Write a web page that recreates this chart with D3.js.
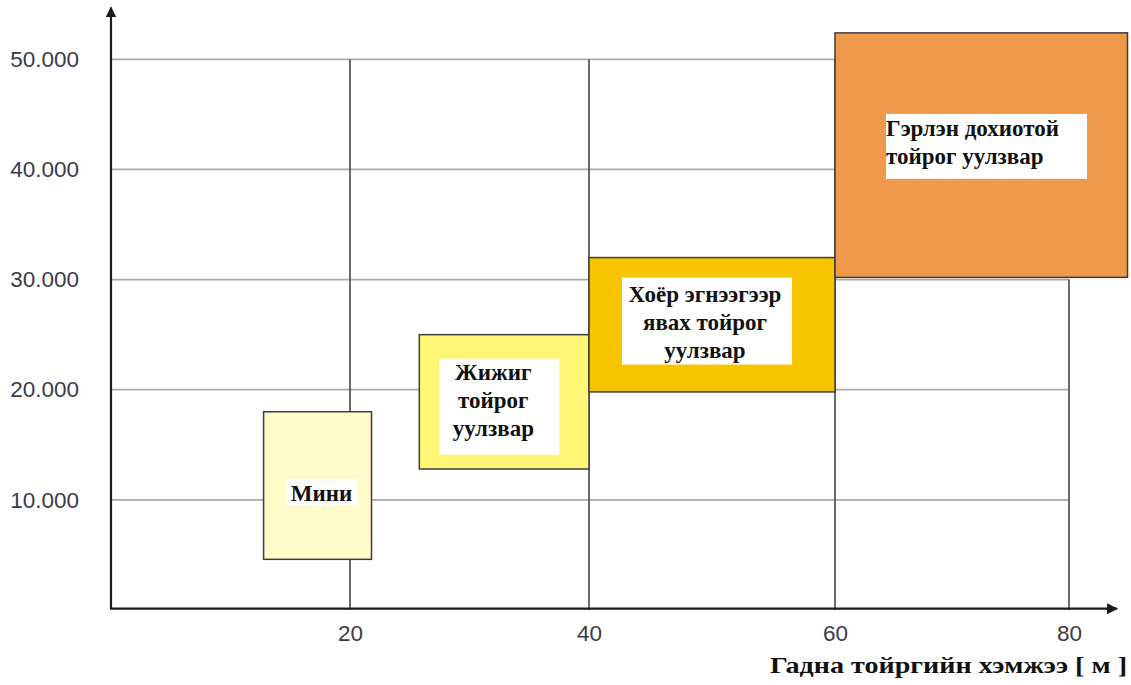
<!DOCTYPE html>
<html>
<head>
<meta charset="utf-8">
<script src="https://cdn.jsdelivr.net/npm/d3@7"></script>
<style>
  html, body { margin: 0; padding: 0; background: #ffffff; }
  svg { display: block; }
</style>
</head>
<body>
<svg id="chart" width="1131" height="685"></svg>
<script>
// Roundabout types: outer diameter range [m] vs. traffic capacity range
const categories = ["Мини", "Жижиг тойрог уулзвар", "Хоёр эгнээгээр явах тойрог уулзвар", "Гэрлэн дохиотой тойрог уулзвар"];
const labelLines = [["Мини"], ["Жижиг", "тойрог", "уулзвар"], ["Хоёр эгнээгээр", "явах тойрог", "уулзвар"], ["Гэрлэн дохиотой", "тойрог уулзвар"]];
const diameterMin = [12.8, 25.8, 40, 60];
const diameterMax = [21.8, 40, 60, 85];
const capacityMin = [4600, 12800, 19800, 30200];
const capacityMax = [18000, 25000, 32000, 52400];
const xTicks = [20, 40, 60, 80];
const yTicks = [10000, 20000, 30000, 40000, 50000];
const xTitle = "Гадна тойргийн хэмжээ [ м ]";

// styling
const fills = ["#fffbcb", "#fff677", "#f7c400", "#ef9a4a"];
// white label panels, in pixels relative to each box's top-left corner
const labelLayout = [
  { rx: 23, ry: 67, rw: 70, rh: 27, tx: 58, ty: 89, anchor: "middle" },
  { rx: 20, ry: 24, rw: 120, rh: 96, tx: 74, ty: 45, anchor: "middle" },
  { rx: 33, ry: 20, rw: 170, rh: 87, tx: 116, ty: 44, anchor: "middle" },
  { rx: 51, ry: 81, rw: 201, rh: 65, tx: 51, ty: 103, anchor: "start" }
];
const lineGap = 28;

const svg = d3.select("#chart");

// the diagram's x spacing is slightly uneven, so a piecewise-linear scale is used
const x = d3.scaleLinear().domain([0, 20, 40, 60, 80]).range([110, 350, 589, 835, 1069]);
const y = d3.scaleLinear().domain([0, 50000]).range([610, 59.3]);

// grid: full height up to 60 m, the 60–80 m column only up to 30.000
const gridTop = v => (v <= 60 ? 50000 : 30000);
const gridRight = v => (v >= 40000 ? 60 : 80);

const grid = svg.append("g");
grid.selectAll("line.h")
  .data(yTicks)
  .join("line")
  .attr("x1", x(0)).attr("x2", d => x(gridRight(d)))
  .attr("y1", d => y(d)).attr("y2", d => y(d))
  .attr("stroke", "#ababab").attr("stroke-width", 1.8);
grid.selectAll("line.v")
  .data(xTicks)
  .join("line")
  .attr("x1", d => x(d)).attr("x2", d => x(d))
  .attr("y1", y(0)).attr("y2", d => y(gridTop(d)))
  .attr("stroke", "#3a3a3a").attr("stroke-width", 1.5);

// axes with arrowheads
const defs = svg.append("defs");
defs.append("marker")
  .attr("id", "arrow")
  .attr("viewBox", "0 0 10 10")
  .attr("refX", 9).attr("refY", 5)
  .attr("markerWidth", 5).attr("markerHeight", 5)
  .attr("orient", "auto")
  .append("path").attr("d", "M0,0 L10,5 L0,10 Z").attr("fill", "#1a1a1a");

svg.append("line")
  .attr("x1", x(0) + 1).attr("x2", x(0) + 1)
  .attr("y1", y(0) - 1).attr("y2", y(54700))
  .attr("stroke", "#1a1a1a").attr("stroke-width", 2.2)
  .attr("marker-end", "url(#arrow)");
svg.append("line")
  .attr("x1", x(0)).attr("x2", x(84.1))
  .attr("y1", y(0) - 1.3).attr("y2", y(0) - 1.3)
  .attr("stroke", "#1a1a1a").attr("stroke-width", 2.2)
  .attr("marker-end", "url(#arrow)");

// tick labels
const fmt = d => d3.format(",")(d).replace(/,/g, ".");
const yAxis = svg.append("g")
  .attr("transform", `translate(${x(0)},0)`)
  .call(d3.axisLeft(y).tickValues(yTicks).tickSize(0).tickPadding(31).tickFormat(fmt));
const xAxis = svg.append("g")
  .attr("transform", `translate(0,${y(0)})`)
  .call(d3.axisBottom(x).tickValues(xTicks).tickSize(0).tickPadding(15).tickFormat(d3.format("d")));
[yAxis, xAxis].forEach(a => {
  a.select(".domain").remove();
  a.selectAll("text")
    .attr("font-family", "'Liberation Sans', Arial, sans-serif")
    .attr("font-size", 22.5)
    .attr("fill", "#3b3b48");
});

// capacity boxes
const boxes = svg.append("g");
boxes.selectAll("rect")
  .data(categories)
  .join("rect")
  .attr("x", (d, i) => x(diameterMin[i]))
  .attr("y", (d, i) => y(capacityMax[i]))
  .attr("width", (d, i) => x(diameterMax[i]) - x(diameterMin[i]))
  .attr("height", (d, i) => y(capacityMin[i]) - y(capacityMax[i]))
  .attr("fill", (d, i) => fills[i])
  .attr("stroke", "#3d3d3d").attr("stroke-width", 1.5);

// labels on white panels
categories.forEach((name, i) => {
  const L = labelLayout[i];
  const bx = x(diameterMin[i]);
  const by = y(capacityMax[i]);
  const g = svg.append("g").attr("transform", `translate(${bx},${by})`);
  g.append("rect")
    .attr("x", L.rx).attr("y", L.ry)
    .attr("width", L.rw).attr("height", L.rh)
    .attr("fill", "#ffffff");
  const t = g.append("text")
    .attr("font-family", "'Liberation Serif', 'Times New Roman', serif")
    .attr("font-weight", "bold")
    .attr("font-size", 23)
    .attr("fill", "#111111")
    .attr("text-anchor", L.anchor);
  labelLines[i].forEach((line, k) => {
    t.append("tspan").attr("x", L.tx).attr("y", L.ty + k * lineGap).text(line);
  });
});

// x-axis title
svg.append("text")
  .attr("x", 770).attr("y", 673)
  .attr("textLength", 357)
  .attr("lengthAdjust", "spacingAndGlyphs")
  .attr("font-family", "'Liberation Serif', 'Times New Roman', serif")
  .attr("font-weight", "bold")
  .attr("font-size", 24)
  .attr("fill", "#111111")
  .text(xTitle);
</script>
</body>
</html>
